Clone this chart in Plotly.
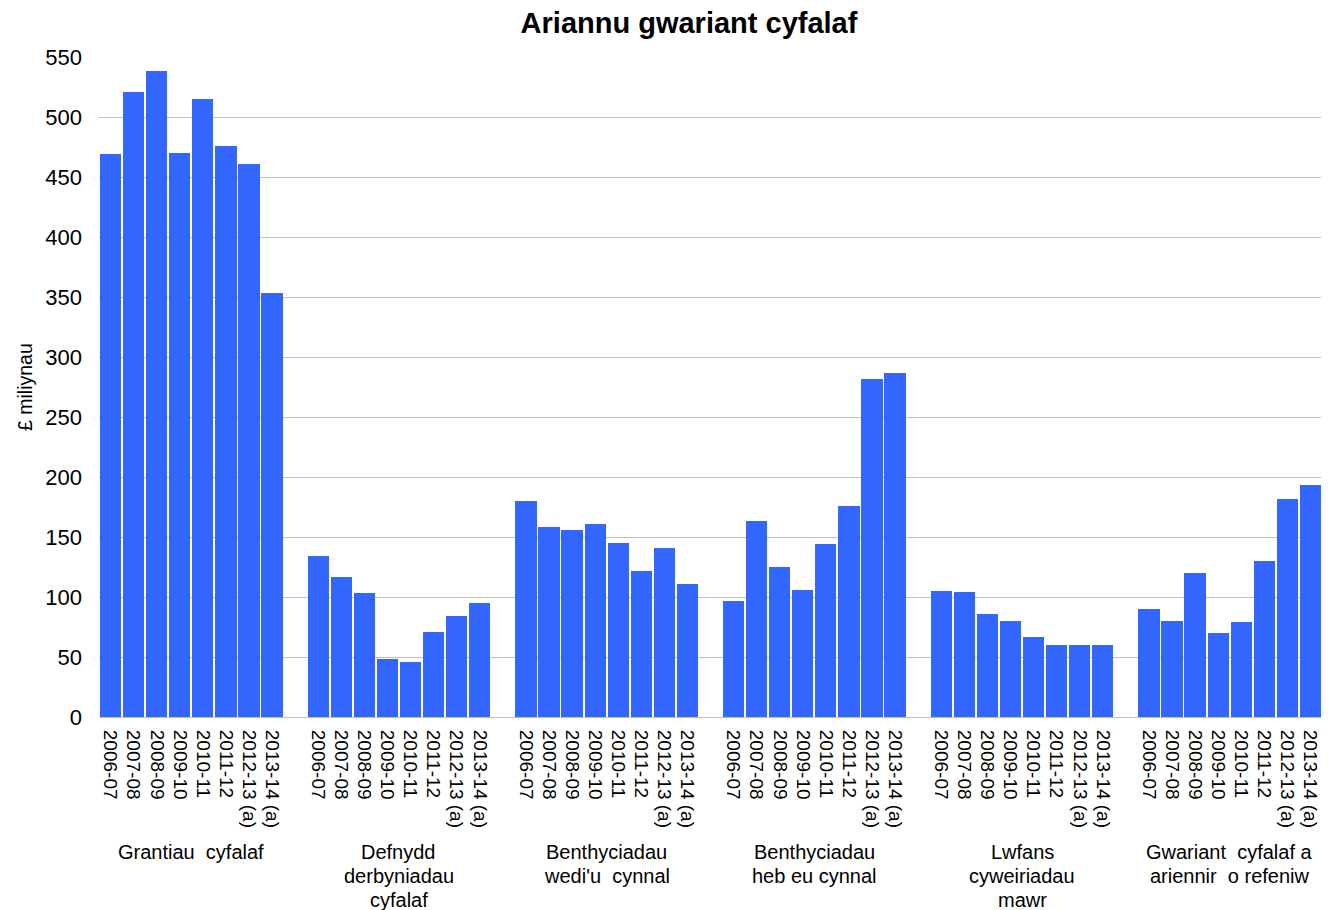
import plotly.graph_objects as go

# ---- data ----
years = ["2006-07", "2007-08", "2008-09", "2009-10", "2010-11", "2011-12",
         "2012-13 (a)", "2013-14 (a)"]
group_labels = [
    ["Grantiau\u00a0 cyfalaf"],
    ["Defnydd", "derbyniadau", "cyfalaf"],
    ["Benthyciadau", "wedi'u\u00a0 cynnal"],
    ["Benthyciadau", "heb eu cynnal"],
    ["Lwfans", "cyweiriadau", "mawr"],
    ["Gwariant\u00a0 cyfalaf a", "ariennir\u00a0 o refeniw"],
]
grantiau = [469, 521, 538, 470, 515, 476, 461, 353]
defnydd = [134, 117, 103, 48, 46, 71, 84, 95]
benth_cynnal = [180, 158, 156, 161, 145, 122, 141, 111]
benth_heb = [97, 163, 125, 106, 144, 176, 282, 287]
lwfans = [105, 104, 86, 80, 67, 60, 60, 60]
refeniw = [90, 80, 120, 70, 79, 130, 182, 193]
series = [grantiau, defnydd, benth_cynnal, benth_heb, lwfans, refeniw]

y_ticks = list(range(0, 551, 50))

# ---- build positions (one empty slot between groups) ----
slot = len(years) + 1
xs, ys, texts = [], [], []
for g, vals in enumerate(series):
    for i, v in enumerate(vals):
        xs.append(g * slot + i)
        ys.append(v)
        texts.append(years[i])
n_slots = len(series) * slot - 1

FONT = "Arial, Liberation Sans, sans-serif"
# page body has an 8px margin, figure is sized to fit the window
W, H = 1321, 902

fig = go.Figure()
fig.add_trace(go.Bar(
    x=xs, y=ys,
    marker=dict(color="#3366FF", line=dict(width=0)),
    width=0.92,
    showlegend=False,
    hoverinfo="y",
))

for g, lines in enumerate(group_labels):
    center = g * slot + (len(years) - 1) / 2
    for k, line in enumerate(lines):
        fig.add_annotation(
            x=center, xref="x", y=0, yref="paper",
            yanchor="middle", yshift=-135 - 24 * k,
            text=line, showarrow=False, align="center",
            font=dict(family=FONT, size=20, color="#000000"),
        )

fig.add_annotation(
    text="£ miliynau", textangle=-90, showarrow=False,
    xref="paper", x=-74 / 1223, xanchor="center",
    yref="paper", y=0.5, yanchor="middle",
    font=dict(family=FONT, size=19.5, color="#000000"),
)

fig.update_layout(
    width=W, height=H,
    margin=dict(l=91, r=7, t=49, b=193),
    paper_bgcolor="white", plot_bgcolor="white",
    title=dict(text="<b>Ariannu gwariant cyfalaf</b>",
               x=681 / W, xref="container", xanchor="center",
               y=1 - 15 / H, yref="container", yanchor="middle",
               font=dict(family=FONT, size=29, color="#000000")),
    bargap=0,
    font=dict(family=FONT, color="#000000"),
)
fig.update_xaxes(
    range=[-0.5, n_slots - 0.5],
    tickmode="array", tickvals=xs, ticktext=texts,
    tickangle=90, tickfont=dict(family=FONT, size=19, color="#000000"),
    showgrid=False, zeroline=False,
    showline=True, linecolor="#BFBFBF", linewidth=1,
    ticks="", ticklabelstandoff=8,
)
fig.update_yaxes(
    range=[0, 550], tickmode="array", tickvals=y_ticks,
    tickfont=dict(family=FONT, size=22, color="#000000"),
    showgrid=True, gridcolor="#C0C0C0", gridwidth=1,
    zeroline=False, showline=False, ticks="", ticklabelstandoff=16,
)

fig.write_html("out.html")
